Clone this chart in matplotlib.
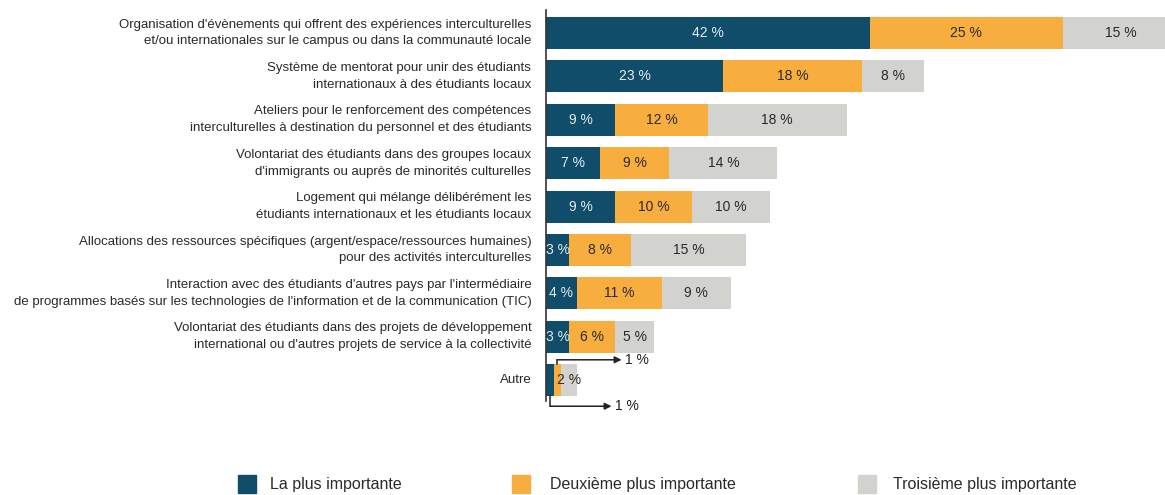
import matplotlib.pyplot as plt
from matplotlib.patches import Rectangle
from matplotlib import font_manager

# Activities ranked by institutions (share of answers, %)
categories = [
    "Organisation d'évènements qui offrent des expériences interculturelles\net/ou internationales sur le campus ou dans la communauté locale",
    "Système de mentorat pour unir des étudiants\ninternationaux à des étudiants locaux",
    "Ateliers pour le renforcement des compétences\ninterculturelles à destination du personnel et des étudiants",
    "Volontariat des étudiants dans des groupes locaux\nd'immigrants ou auprès de minorités culturelles",
    "Logement qui mélange délibérément les\nétudiants internationaux et les étudiants locaux",
    "Allocations des ressources spécifiques (argent/espace/ressources humaines)\npour des activités interculturelles",
    "Interaction avec des étudiants d'autres pays par l'intermédiaire\nde programmes basés sur les technologies de l'information et de la communication (TIC)",
    "Volontariat des étudiants dans des projets de développement\ninternational ou d'autres projets de service à la collectivité",
    "Autre",
]
first = [42, 23, 9, 7, 9, 3, 4, 3, 1]
second = [25, 18, 12, 9, 10, 8, 11, 6, 1]
third = [15, 8, 18, 14, 10, 15, 9, 5, 2]
series_names = ["La plus importante", "Deuxième plus importante", "Troisième plus importante"]

colors = ["#0f4d6b", "#f7ae3e", "#d2d2cf"]
text_colors = ["#e6ecef", "#2a2a2a", "#2a2a2a"]

available = {f.name for f in font_manager.fontManager.ttflist}
font = "Liberation Sans Narrow" if "Liberation Sans Narrow" in available else "Liberation Sans"
plt.rcParams["font.family"] = [font, "DejaVu Sans"]

W, H = 1165, 495
fig = plt.figure(figsize=(W / 100, H / 100), dpi=100)
# axes placed in pixel coordinates
left, right, top, bottom = 546, 1165, 5, 415
ax = fig.add_axes([left / W, 1 - bottom / H, (right - left) / W, (bottom - top) / H])

px_per_pct = 7.71
ax.set_xlim(0, (right - left) / px_per_pct)
row0, row_step = 33, 43.4
ax.set_ylim((bottom - row0) / row_step, (top - row0) / row_step)

ys = list(range(len(categories)))
bar_h = 0.74
lefts = [0] * len(categories)
for k, vals in enumerate([first, second, third]):
    ax.barh(ys, vals, left=lefts, height=bar_h, color=colors[k], edgecolor="none")
    for i, v in enumerate(vals):
        if categories[i] == "Autre" and k < 2:
            pass
        else:
            ax.text(lefts[i] + v / 2, i, f"{v} %", ha="center", va="center",
                    fontsize=10, color=text_colors[k])
    lefts = [a + b for a, b in zip(lefts, vals)]

# small values in the last row are labelled with elbow arrows
last = len(categories) - 1
arrow_kw = dict(arrowstyle="-|>", color="#222222", lw=1.1, mutation_scale=10,
                shrinkA=0, shrinkB=0)
x2 = first[last] + second[last] * 0.45
ax.plot([x2, x2], [last - bar_h / 2, last - 0.47], color="#222222", lw=1.1)
ax.annotate("", xy=(9.8, last - 0.47), xytext=(x2, last - 0.47), arrowprops=arrow_kw)
ax.text(10.2, last - 0.47, f"{second[last]} %", va="center", fontsize=10, color="#222222")
x1 = first[last] * 0.55
ax.plot([x1, x1], [last + bar_h / 2, last + 0.6], color="#222222", lw=1.1)
ax.annotate("", xy=(8.5, last + 0.6), xytext=(x1, last + 0.6), arrowprops=arrow_kw)
ax.text(9.0, last + 0.6, f"{first[last]} %", va="center", fontsize=10, color="#222222")

ax.plot([0, 0], [-0.53, 8.48], color="#333333", lw=1.2, clip_on=False)

for i, lab in enumerate(categories):
    ax.text(-1.9, i, lab, ha="right", va="center", fontsize=9.55, color="#2a2a2a",
            linespacing=1.55)

ax.axis("off")

# legend drawn in pixel coordinates
legend_items = [(238, 270), (512, 550), (858, 893)]
for (sx, tx), c, name in zip(legend_items, colors, series_names):
    fig.patches.append(Rectangle((sx / W, 1 - 493 / H), 18 / W, 18 / H,
                                 transform=fig.transFigure, color=c))
    fig.text(tx / W, 1 - 485 / H, name, va="center", ha="left", fontsize=11.5,
             color="#2a2a2a")

fig.savefig("out.png", dpi=100)
